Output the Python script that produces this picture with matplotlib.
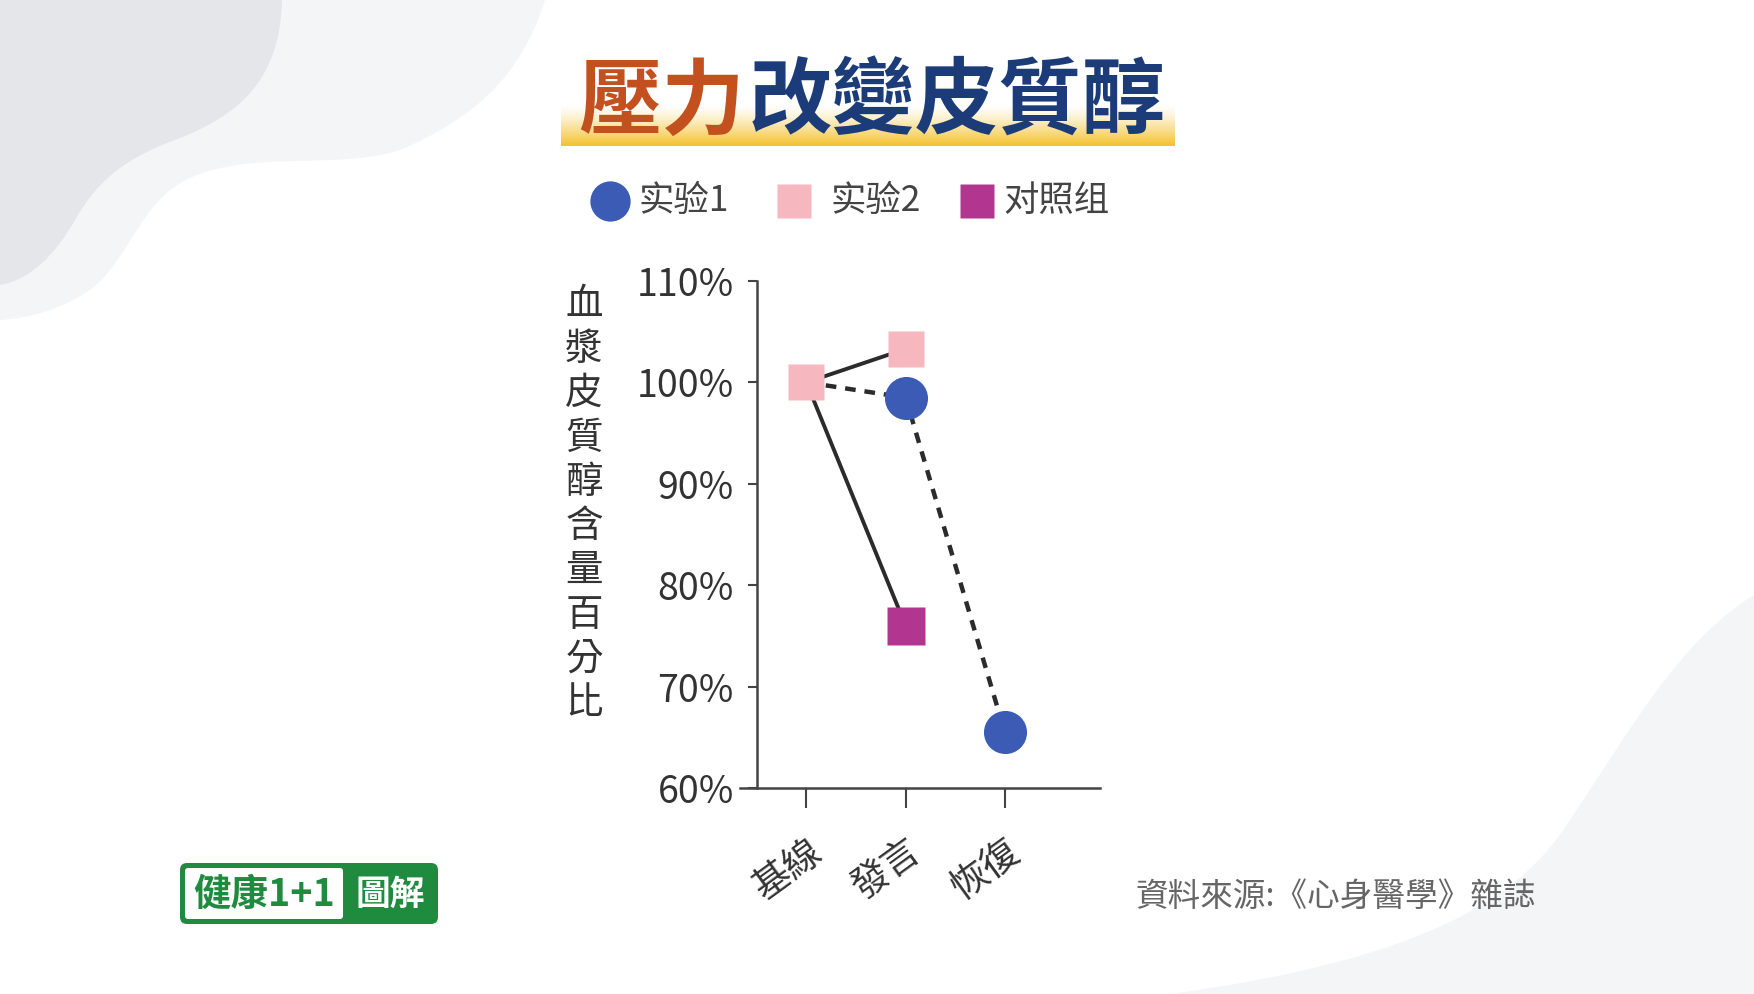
import numpy as np
import matplotlib
matplotlib.use("Agg")
import matplotlib.pyplot as plt
from matplotlib.path import Path
from matplotlib.patches import PathPatch, FancyBboxPatch

# ================= DATA ================= #
categories = ["基線", "發言", "恢復"]
exp1 = [100, 98.5, 65.5]          # 实验1
exp2 = [100, 103.3, np.nan]       # 实验2
control = [100, 76.0, np.nan]     # 对照组
y_ticks = [60, 70, 80, 90, 100, 110]
y_tick_labels = [f"{v}%" for v in y_ticks]

title_a = "壓力"
title_b = "改變皮質醇"
y_label = "血漿皮質醇含量百分比"
legend_labels = ["实验1", "实验2", "对照组"]
source = "資料來源:《心身醫學》雜誌"

# ================= STYLE ================= #
CJK = ["Noto Sans CJK TC", "DejaVu Sans"]
plt.rcParams["font.family"] = CJK

BLUE = "#3B5BB5"
PINK = "#F7B7BE"
MAGENTA = "#B2368F"
LINE = "#2b2b2b"
AXIS = "#444444"
TEXT = "#333333"
GREEN = "#1E8B3E"

W, H = 1754, 994
fig = plt.figure(figsize=(W / 100, H / 100), dpi=100)
fig.patch.set_facecolor("white")

# background layer in pixel coordinates
bg = fig.add_axes([0, 0, 1, 1], zorder=0)
bg.set_xlim(0, W)
bg.set_ylim(H, 0)
bg.axis("off")


def blob(verts, codes, color):
    bg.add_patch(PathPatch(Path(verts, codes), facecolor=color, edgecolor="none"))


M, L, C, Z = Path.MOVETO, Path.LINETO, Path.CURVE4, Path.CLOSEPOLY
blob([(0, 0), (545, 0), (520, 80), (470, 120), (400, 150), (340, 170), (250, 150),
      (190, 178), (140, 200), (130, 260), (90, 290), (60, 310), (30, 318), (0, 320), (0, 0)],
     [M, L, C, C, C, C, C, C, C, C, C, C, C, C, Z], "#F4F5F7")
blob([(0, 0), (282, 0), (280, 80), (240, 115), (175, 140), (120, 160), (95, 185),
      (75, 220), (55, 255), (30, 280), (0, 285), (0, 0)],
     [M, L, C, C, C, C, C, C, C, C, C, Z], "#E4E6E9")
blob([(W, H), (W, 595), (1680, 640), (1630, 730), (1570, 820), (1520, 900),
      (1420, 960), (1170, H), (W, H)],
     [M, L, C, C, C, C, C, C, Z], "#F4F5F7")

# title highlight bar
grad = np.zeros((60, 1, 4))
grad[:, 0, 0] = 0.96
grad[:, 0, 1] = 0.76
grad[:, 0, 2] = 0.18
grad[:, 0, 3] = np.linspace(0.0, 1.0, 60) ** 1.3
bg.imshow(grad, extent=(561, 1175, 146, 104), aspect="auto", interpolation="bilinear")

bg.text(745, 103, title_a, ha="right", va="center", fontsize=60, fontweight="bold", color="#C2511F")
bg.text(749, 103, title_b, ha="left", va="center", fontsize=60, fontweight="bold", color="#1B3C78")

# legend
leg_y = 201
bg.plot(610, leg_y, "o", ms=29, color=BLUE, mec="none")
bg.plot(794, leg_y, "s", ms=24, color=PINK, mec="none")
bg.plot(977, leg_y, "s", ms=24, color=MAGENTA, mec="none")
for x, lab in zip([638, 830, 1003], legend_labels):
    bg.text(x, leg_y, lab, ha="left", va="center", fontsize=25.5, color="#444444",
            family=["Noto Sans CJK SC", "DejaVu Sans"])

# vertical y label
for i, ch in enumerate(y_label):
    bg.text(584, 305 + i * 44.3, ch, ha="center", va="center", fontsize=27,
            color=TEXT)

# logo
bg.add_patch(FancyBboxPatch((180, 863), 258, 61, boxstyle="round,pad=0,rounding_size=7",
                            facecolor=GREEN, edgecolor="none"))
bg.add_patch(FancyBboxPatch((185, 868), 158, 51, boxstyle="round,pad=0,rounding_size=3",
                            facecolor="white", edgecolor="none"))
bg.text(264, 894, "健康1+1", ha="center", va="center", fontsize=27, fontweight="bold", color=GREEN)
bg.text(390, 894, "圖解", ha="center", va="center", fontsize=25, fontweight="bold", color="white")

# source
bg.text(1135, 897, source, ha="left", va="center", fontsize=23.5, color="#666666")

# ================= PLOT ================= #
left, right, top, bottom = 740, 1100, 281, 788
ax = fig.add_axes([left / W, 1 - bottom / H, (right - left) / W, (bottom - top) / H], zorder=1)
ax.set_facecolor("none")

x = np.arange(len(categories))
ax.plot(x, exp1, ls=(0, (2.4, 2.0)), lw=3.2, color=LINE, zorder=2)
ax.plot(x, exp2, ls="-", lw=2.8, color=LINE, zorder=2)
ax.plot(x, control, ls="-", lw=2.8, color=LINE, zorder=2)

ax.plot(x[1:], exp1[1:], "o", ms=31, color=BLUE, mec="none", zorder=3)
ax.plot(x[1:2], control[1:2], "s", ms=27, color=MAGENTA, mec="none", zorder=3)
ax.plot(x[:2], exp2[:2], "s", ms=26.5, color=PINK, mec="none", zorder=4)

ax.set_xlim(-0.67, 2.96)
ax.set_ylim(60, 110)
ax.set_yticks(y_ticks)
ax.set_yticklabels(y_tick_labels, family="DejaVu Sans")
ax.set_xticks(x)
ax.set_xticklabels(categories, rotation=36, ha="right", va="top", rotation_mode="anchor")

for s in ["top", "right"]:
    ax.spines[s].set_visible(False)
ax.spines["left"].set_position(("data", -0.5))
for s in ["left", "bottom"]:
    ax.spines[s].set_linewidth(1.8)
    ax.spines[s].set_color(AXIS)

ax.tick_params(axis="y", length=6.5, width=1.5, pad=10, labelsize=27,
               color=AXIS, labelcolor=TEXT)
ax.tick_params(axis="x", length=14.5, width=1.5, pad=17, labelsize=27,
               color=AXIS, labelcolor=TEXT)

fig.savefig("out.png", dpi=100)
